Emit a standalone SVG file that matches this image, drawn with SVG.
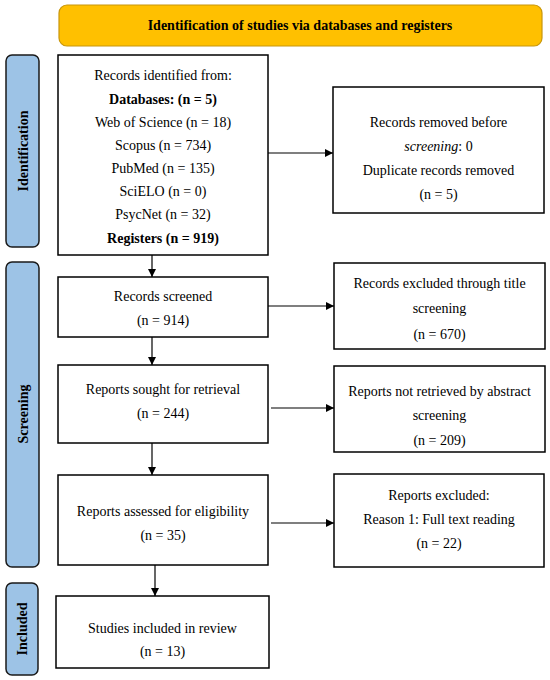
<svg xmlns="http://www.w3.org/2000/svg" width="550" height="680" viewBox="0 0 550 680">
<defs>
<marker id="ah" viewBox="0 0 10 10" refX="10" refY="5" markerWidth="8" markerHeight="8" markerUnits="userSpaceOnUse" orient="auto">
<path d="M0,0 L10,5 L0,10 z" fill="#000"/>
</marker>
<style>
.box{fill:#fff;stroke:#000;stroke-width:1.5}
.bar{fill:#9DC3E6;stroke:#1a1a1a;stroke-width:1.5}
.hdr{fill:#FFC000;stroke:#C8960C;stroke-width:1.2}
text{font-family:"Liberation Serif","Times New Roman",serif;font-size:14px;fill:#000;text-anchor:middle}
.b{font-weight:bold}
.conn line{stroke:#000;stroke-width:1.2;marker-end:url(#ah)}
</style>
</defs>
<rect width="550" height="680" fill="#fff"/>
<g id="header">
<rect class="hdr" x="59" y="5" width="483" height="41" rx="8"/>
<text class="b" x="300" y="30">Identification of studies via databases and registers</text>
</g>
<g id="bar-identification">
<rect class="bar" x="6" y="55" width="33" height="192" rx="6"/>
<text class="b" transform="translate(27.5,151) rotate(-90)">Identification</text>
</g>
<g id="bar-screening">
<rect class="bar" x="6" y="262" width="33" height="305" rx="6"/>
<text class="b" transform="translate(27.5,414) rotate(-90)">Screening</text>
</g>
<g id="bar-included">
<rect class="bar" x="6" y="583" width="32" height="92" rx="6"/>
<text class="b" transform="translate(27,629) rotate(-90)">Included</text>
</g>
<g id="records-identified">
<rect class="box" x="58" y="55" width="210" height="200"/>
<text x="163" y="80">Records identified from:</text>
<text class="b" x="163" y="104">Databases: (n = 5)</text>
<text x="163" y="127">Web of Science (n = 18)</text>
<text x="163" y="150">Scopus (n = 734)</text>
<text x="163" y="173">PubMed (n = 135)</text>
<text x="163" y="196">SciELO (n = 0)</text>
<text x="163" y="219">PsycNet (n = 32)</text>
<text class="b" x="163" y="243">Registers (n = 919)</text>
</g>
<g id="records-removed">
<rect class="box" x="333" y="87" width="211" height="126"/>
<text x="438.5" y="127">Records removed before</text>
<text x="438.5" y="151"><tspan font-style="italic">screening</tspan>: 0</text>
<text x="438.5" y="175">Duplicate records removed</text>
<text x="438.5" y="199">(n = 5)</text>
</g>
<g id="records-screened">
<rect class="box" x="58" y="277" width="210" height="60"/>
<text x="163" y="301">Records screened</text>
<text x="163" y="325">(n = 914)</text>
</g>
<g id="records-excluded">
<rect class="box" x="334" y="263" width="211" height="86"/>
<text x="439.5" y="288">Records excluded through title</text>
<text x="439.5" y="313">screening</text>
<text x="439.5" y="339">(n = 670)</text>
</g>
<g id="reports-sought">
<rect class="box" x="58" y="365" width="210" height="78"/>
<text x="163" y="394">Reports sought for retrieval</text>
<text x="163" y="418">(n = 244)</text>
</g>
<g id="reports-not-retrieved">
<rect class="box" x="334" y="366" width="211" height="86"/>
<text x="439.5" y="396">Reports not retrieved by abstract</text>
<text x="439.5" y="420">screening</text>
<text x="439.5" y="445">(n = 209)</text>
</g>
<g id="reports-assessed">
<rect class="box" x="58" y="475" width="210" height="90"/>
<text x="163" y="516">Reports assessed for eligibility</text>
<text x="163" y="540">(n = 35)</text>
</g>
<g id="reports-excluded">
<rect class="box" x="334" y="474" width="210" height="93"/>
<text x="439" y="500">Reports excluded:</text>
<text x="439" y="524">Reason 1: Full text reading</text>
<text x="439" y="548">(n = 22)</text>
</g>
<g id="studies-included">
<rect class="box" x="56" y="596" width="213" height="72"/>
<text x="162.5" y="633">Studies included in review</text>
<text x="162.5" y="656">(n = 13)</text>
</g>
<g id="connectors" class="conn">
<line x1="152" y1="255" x2="152" y2="277"/>
<line x1="152" y1="337" x2="152" y2="365"/>
<line x1="152" y1="443" x2="152" y2="475"/>
<line x1="155" y1="565" x2="155" y2="596"/>
<line x1="268" y1="153" x2="333" y2="153"/>
<line x1="268" y1="306" x2="334" y2="306"/>
<line x1="271" y1="408" x2="334" y2="408"/>
<line x1="271" y1="523" x2="334" y2="523"/>
</g>
</svg>
